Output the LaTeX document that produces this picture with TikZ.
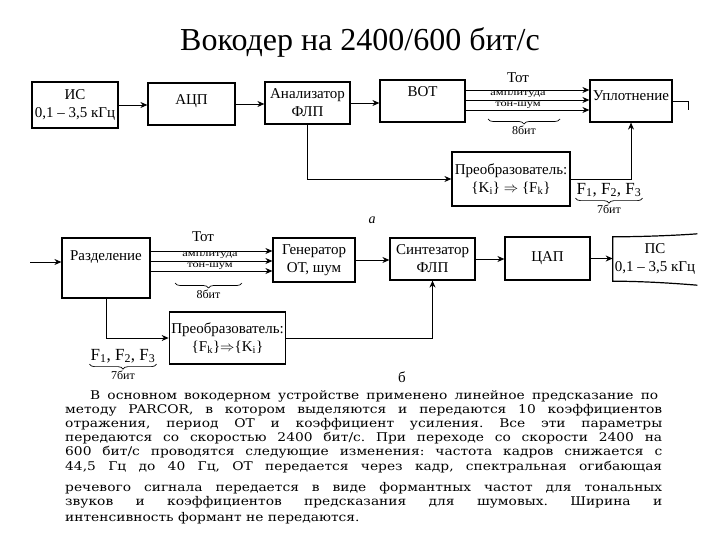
\documentclass[tikz,border=0pt]{standalone}
\usepackage{fontspec}
\setmainfont{Liberation Serif}
\newfontfamily\bodyfont[FakeStretch=1.15]{DejaVu Serif}
\usetikzlibrary{positioning,arrows.meta,calc,decorations.pathreplacing}
\frenchspacing

\begin{document}
\begin{tikzpicture}[
  x=1pt, y=-1pt,
  font=\fontsize{15}{18}\selectfont,
  >=Stealth,
  blk/.style={draw, line width=1.2pt, align=center, inner sep=2pt},
  arr/.style={-{Stealth[length=7pt,width=6pt]}, line width=0.9pt},
  wire/.style={line width=0.9pt},
  lbl/.style={font=\fontsize{12}{12}\selectfont, inner sep=0pt},
  tight/.style={font=\fontsize{9.5}{9.5}\selectfont, inner sep=0pt},
  brc/.style={decorate, decoration={brace, mirror, amplitude=5pt}, line width=0.7pt},
  txt/.style={font=\bodyfont\fontsize{12}{13}\selectfont, inner sep=0pt, anchor=west},
]
\useasboundingbox (0,0) rectangle (720,540);

% Title
\node[font=\fontsize{32}{34}\selectfont] (title) at (360,42) {Вокодер на 2400/600 бит/с};

% ---- a: coder ----
\node[blk, minimum width=86pt, minimum height=46pt] (ic) at (75,105) {ИС\\0,1 -- 3,5 кГц};
\node[blk, minimum width=87pt, text height=20pt, text depth=18pt] (adc) at (191.5,104) {АЦП};
\node[blk, minimum width=85pt, minimum height=42pt] (anl) at (307.5,103) {Анализатор\\ФЛП};
\node[blk, minimum width=85pt, text height=15pt, text depth=23pt] (vot) at (422.5,101) {ВОТ};
\node[blk, minimum width=82pt, text height=19pt, text depth=19pt] (upl) at (631,101) {Уплотнение};
\node[blk, minimum width=118pt, minimum height=54pt] (prA) at (511,179)
  {Преобразователь:\\\{K\textsubscript{i}\} $\Rightarrow$ \{F\textsubscript{k}\}};

\draw[arr] (ic.east) -- (ic.east -| adc.west);
\draw[arr] (adc.east) -- (adc.east -| anl.west);
\draw[arr] (anl.east) -- (anl.east -| vot.west);

% three tracks VOT -> multiplexer
\draw[arr] ($(vot.east)+(0,-11)$) -- ($(upl.west)+(0,-11)$);
\draw[arr] ($(vot.east)+(0,-1)$) -- ($(upl.west)+(0,-1)$);
\draw[arr] ($(vot.east)+(0,9)$) -- ($(upl.west)+(0,9)$);
\node (totA) at (518,78) {Тот};
\node[tight] (ampA) at (518,94.5) {\scalebox{1.3}[1]{амплитуда}};
\node[tight] (tsA) at (518,105.5) {\scalebox{1.3}[1]{тон-шум}};
\draw[brc] (488,119) -- (560,119) node[midway, below=7pt, lbl] (bitA) {8бит};

\draw[arr] (anl.south) |- (prA.west);
\draw[arr] (prA.east) -| (upl.south);
\coordinate (uplout) at (688,101);
\draw[wire] (upl.east) -- (uplout) -- ++(0,9);

\node[font=\fontsize{17}{17}\selectfont, inner sep=1pt] (fA) at (609,190)
  {F\textsubscript{1}, F\textsubscript{2}, F\textsubscript{3}};
\draw[brc] (fA.south west) -- (fA.south east) node[midway, below=6pt, lbl] (fbitA) {7бит};
\node[font=\itshape\fontsize{14}{14}\selectfont] (capA) at (372,220) {а};

% ---- b: decoder ----
\node[blk, minimum width=88pt, text height=20pt, text depth=36pt] (raz) at (106,268) {Разделение};
\node[blk, minimum width=82pt, minimum height=44pt] (gen) at (314,260) {Генератор\\ОТ, шум};
\node[blk, minimum width=85pt, minimum height=42pt] (syn) at (432.5,259) {Синтезатор\\ФЛП};
\node[blk, minimum width=85pt, minimum height=43pt] (dac) at (547.5,258.5) {ЦАП};
\node[align=center, minimum width=70pt, minimum height=44pt, inner sep=2pt] (ps) at (655,259)
  {ПС\\0,1 -- 3,5 кГц};
\node[blk, minimum width=115pt, minimum height=52pt] (prB) at (227.5,338)
  {Преобразователь:\\\{F\textsubscript{k}\}$\Rightarrow$\{K\textsubscript{i}\}};

% open output block
\draw[line width=1.2pt] ($(ps.north east)+(0,-3)$) .. controls +(-12,1) and +(35,0) .. (ps.north west)
  -- (ps.south west) .. controls +(35,0) and +(-12,-1) .. ($(ps.south east)+(0,4)$);

\coordinate (inB) at (30,262);
\draw[arr] (inB) -- (inB -| raz.west);

\draw[arr] ($(raz.east|-gen.west)+(0,-9)$) -- ($(gen.west)+(0,-9)$);
\draw[arr] ($(raz.east|-gen.west)+(0,1)$) -- ($(gen.west)+(0,1)$);
\draw[arr] ($(raz.east|-gen.west)+(0,11)$) -- ($(gen.west)+(0,11)$);
\node (totB) at (203,237) {Тот};
\node[tight] (ampB) at (210,255.5) {\scalebox{1.3}[1]{амплитуда}};
\node[tight] (tsB) at (210,266.5) {\scalebox{1.3}[1]{тон-шум}};
\draw[brc] (175,283) -- (242,283) node[midway, below=7pt, lbl] (bitB) {8бит};

\draw[arr] (gen.east) -- (gen.east -| syn.west);
\draw[arr] (syn.east) -- (syn.east -| dac.west);
\draw[arr] (dac.east) -- (dac.east -| ps.west);

\draw[arr] (raz.south) |- (prB.west);
\draw[arr] (prB.east) -| (syn.south);

\node[font=\fontsize{17}{17}\selectfont, inner sep=1pt] (fB) at (123,356)
  {F\textsubscript{1}, F\textsubscript{2}, F\textsubscript{3}};
\draw[brc] (fB.south west) -- (fB.south east) node[midway, below=6pt, lbl] (fbitB) {7бит};
\node[font=\fontsize{15}{15}\selectfont] (capB) at (402,377) {б};

% ---- text ----
\node[txt] (l1) at (90,396) {\makebox[568pt][s]{В основном вокодерном устройстве применено линейное предсказание по}};
\node[txt] (l2) at (65,410) {\makebox[597pt][s]{методу PARCOR, в котором выделяются и передаются 10 коэффициентов}};
\node[txt] (l3) at (65,424) {\makebox[597pt][s]{отражения, период ОТ и коэффициент усиления. Все эти параметры}};
\node[txt] (l4) at (65,438) {\makebox[597pt][s]{передаются со скоростью 2400 бит/с. При переходе со скорости 2400 на}};
\node[txt] (l5) at (65,452) {\makebox[597pt][s]{600 бит/с проводятся следующие изменения: частота кадров снижается с}};
\node[txt] (l6) at (65,467) {\makebox[597pt][s]{44,5 Гц до 40 Гц, ОТ передается через кадр, спектральная огибающая}};
\node[txt] (l7) at (65,488) {\makebox[597pt][s]{речевого сигнала передается в виде формантных частот для тональных}};
\node[txt] (l8) at (65,502) {\makebox[597pt][s]{звуков и коэффициентов предсказания для шумовых. Ширина и}};
\node[txt] (l9) at (65,518) {интенсивность формант не передаются.};

\end{tikzpicture}
\end{document}
